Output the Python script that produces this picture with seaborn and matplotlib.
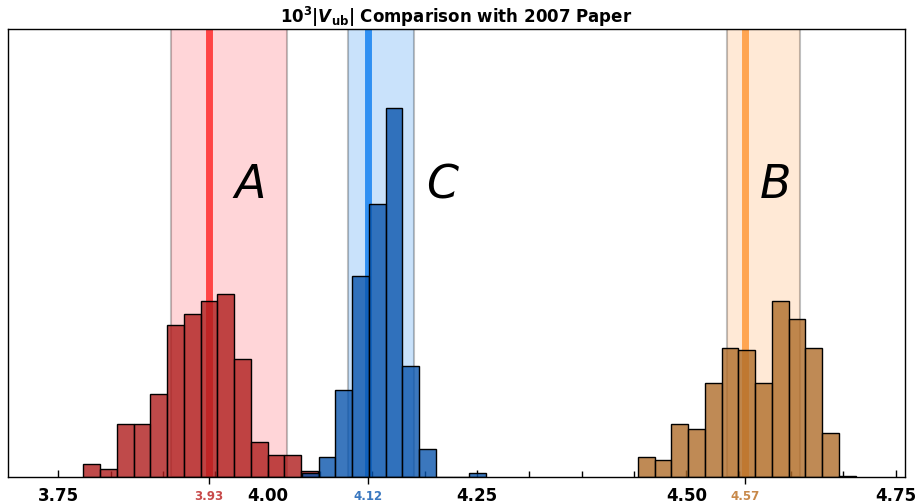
import numpy as np
import pandas as pd
import seaborn as sns
import matplotlib
matplotlib.use("Agg")
import matplotlib.pyplot as plt
from matplotlib.ticker import AutoMinorLocator

# %%
# histogram heights (arbitrary units, bin width 0.02)
bin_width = 0.02
a_start = 3.780
a_heights = [13, 8.3, 52.7, 52.7, 82.7, 151.7, 163.3, 175.7, 182.7, 117.7, 34.7, 22, 22, 6]
c_start = 4.041
c_heights = [4, 19.7, 87, 200.7, 272.7, 368.7, 111, 27.7, 0, 0, 3.7]
b_start = 4.442
b_heights = [19.7, 17.3, 52.7, 48.3, 93.7, 129, 126.7, 93.7, 175.7, 158.3, 129, 43.7, 1.3]

# 2007 paper values and bands
labels = ["A", "C", "B"]
centers_2007 = [3.93, 4.12, 4.57]
band_lo = [3.885, 4.096, 4.548]
band_hi = [4.023, 4.175, 4.636]
letter_x = [3.977, 4.209, 4.605]

bar_colors = ["#b01d1d", "#0a55ad", "#b06d2a"]
band_colors = ["#ff5a64", "#288cf0", "#ffa85c"]
line_colors = ["#ff2020", "#0a7cf0", "#ff9430"]
label_colors = ["#c84a4a", "#3a78c0", "#c8894a"]

major_ticks = [3.75, 4.00, 4.25, 4.50, 4.75]


def make_hist_df(start, heights):
    """bin centers + weights for one histogram"""
    edges = start + bin_width * np.arange(len(heights) + 1)
    centers = (edges[:-1] + edges[1:]) / 2
    return pd.DataFrame({"x": centers, "w": heights}), list(edges)


# %%
sns.set_style("white")
plt.rcParams["font.family"] = ["DejaVu Sans"]
plt.rcParams["text.color"] = "k"
plt.rcParams["xtick.color"] = "k"

fig = plt.figure(figsize=(9.17, 5.04), dpi=100)
ax = fig.add_axes([8 / 917, 27 / 504, 897 / 917, 448 / 504])

for lo, hi, c in zip(band_lo, band_hi, band_colors):
    ax.axvspan(lo, hi, facecolor=c, edgecolor="k", lw=1.5, alpha=0.25, zorder=0)
for x0, c in zip(centers_2007, line_colors):
    ax.axvline(x0, color=c, lw=5, alpha=0.8, zorder=1)

for (start, heights), c in zip([(a_start, a_heights), (c_start, c_heights), (b_start, b_heights)],
                               bar_colors):
    hdf, edges = make_hist_df(start, heights)
    sns.histplot(data=hdf, x="x", weights="w", bins=edges, color=c, alpha=0.8,
                 edgecolor="k", linewidth=1, ax=ax, zorder=2)

for lab, x0 in zip(labels, letter_x):
    ax.text(x0, 292, f"${lab}$", fontsize=33, color="k", ha="center", va="center", zorder=3)

ax.set_xlim(3.690, 4.761)
ax.set_ylim(0, 448)
ax.set_xlabel("")
ax.set_ylabel("")
ax.set_yticks([])
ax.set_xticks(major_ticks, labels=[f"{t:.2f}" for t in major_ticks])
ax.xaxis.set_minor_locator(AutoMinorLocator(4))
ax.tick_params(axis="x", which="major", direction="in", length=5, width=1,
               pad=7, labelsize=12, colors="k", bottom=True, top=False)
ax.tick_params(axis="x", which="minor", direction="in", length=4, width=1,
               colors="k", bottom=True, top=False)
for t in ax.get_xticklabels():
    t.set_fontweight("bold")
for s in ax.spines.values():
    s.set_visible(True)
    s.set_color("k")
    s.set_linewidth(1)

# coloured ticks for the 2007 central values
ax2 = ax.secondary_xaxis("bottom")
ax2.set_xticks(centers_2007, labels=[f"{v:.2f}" for v in centers_2007])
ax2.tick_params(axis="x", direction="out", length=5, width=1, pad=4, labelsize=8.5)
ax2.spines["bottom"].set_visible(False)
for tick, lab, c in zip(ax2.xaxis.get_major_ticks(), ax2.get_xticklabels(), label_colors):
    tick.tick1line.set_color(c)
    lab.set_color(c)
    lab.set_fontweight("bold")

ax.set_title(r"$\mathbf{10^3|}\mathbfit{V}_{\mathbf{ub}}\mathbf{|}$ Comparison with 2007 Paper",
             fontsize=12, fontweight="bold", color="k", pad=4)

fig.savefig("out.png", dpi=100)
